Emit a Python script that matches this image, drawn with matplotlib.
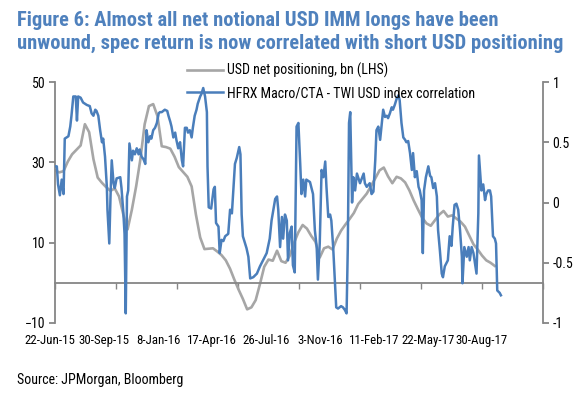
import pandas as pd
import matplotlib
matplotlib.use("Agg")
import matplotlib.pyplot as plt
from matplotlib.lines import Line2D

plt.rcParams['font.family'] = ['Roboto Condensed', 'DejaVu Sans']

# -----------------------------
# Data
# -----------------------------
start = pd.Timestamp("2015-06-22")

# USD net positioning, bn (LHS) - weekly
gray_vals = [28, 27.5, 27.8, 30.2, 32, 33.1, 34.2, 39.5, 37.5, 30.8,
             26.2, 24.9, 23.8, 22.9, 23.5, 21.5, 17, 13.3, 18.2, 24,
             30.8, 39.5, 44, 44.5, 41.5, 34, 33.8, 33.4, 31.4, 28.8,
             27.6, 26.4, 24, 17, 11.3, 8.4, 8.5, 8.6, 7.8, 6.9,
             5.6, 3.5, 0.8, -1.7, -4, -6.6, -6.1, -4.3, -0.3, 4,
             5.8, 5.5, 8, 5.4, 5, 6.8, 10, 12.6, 14.4, 13.5,
             11.7, 10.2, 6.3, 8.6, 9, 8.3, 11, 13, 14.5, 15.9,
             17.4, 19.6, 20.9, 22.2, 24.1, 26, 28, 28.7, 26.5, 24.8,
             26.4, 26, 25, 23, 20.5, 18.3, 16.2, 14.8, 14.2, 15.6,
             17, 17.9, 16.5, 16.8, 16, 15.2, 14, 11.8, 9.6, 8.3,
             6.8, 5.6, 5, 4.2]
gray_dates = pd.date_range(start, periods=len(gray_vals), freq="7D")

# HFRX Macro/CTA - TWI USD index correlation (RHS), days since 22-Jun-15
corr_days = [0, 3, 5, 8, 11, 14, 16, 22, 25, 27,
             30, 34, 36, 38, 42, 46, 52, 57, 60, 63,
             66, 68, 71, 74, 77, 79, 82, 85, 86, 89,
             91, 93, 96, 98, 101, 107, 109, 112, 114, 116,
             118, 120, 122, 126, 128, 131, 134, 137, 139, 142,
             145, 148, 150, 153, 156, 158, 161, 164, 167, 170,
             172, 175, 180, 184, 186, 189, 191, 194, 197, 199,
             202, 205, 208, 210, 213, 216, 218, 221, 224, 226,
             229, 232, 234, 238, 240, 243, 246, 249, 250, 252,
             256, 260, 262, 264, 268, 270, 273, 276, 279, 284,
             287, 290, 293, 295, 298, 302, 304, 306, 308, 314,
             317, 320, 325, 331, 336, 341, 347, 352, 355, 358,
             361, 364, 366, 369, 372, 374, 377, 380, 382, 385,
             388, 390, 393, 396, 399, 402, 404, 407, 410, 412,
             418, 420, 423, 426, 429, 431, 434, 437, 440, 443,
             445, 448, 451, 453, 456, 459, 461, 464, 469, 472,
             475, 478, 480, 482, 484, 487, 489, 492, 495, 500,
             506, 508, 511, 516, 519, 522, 525, 527, 530, 533,
             535, 538, 541, 544, 546, 549, 552, 554, 557, 560,
             563, 565, 568, 571, 574, 576, 579, 582, 585, 587,
             590, 593, 596, 598, 601, 603, 605, 608, 612, 615,
             617, 620, 623, 626, 628, 631, 634, 636, 639, 642,
             644, 647, 650, 652, 655, 658, 661, 664, 667, 668,
             671, 675, 678, 680, 683, 686, 688, 691, 694, 695,
             699, 702, 705, 707, 710, 713, 715, 718, 721, 723,
             725, 729, 731]
corr_vals = [0.30, 0.30, 0.15, 0.06, 0.19, 0.07, 0.53, 0.55, 0.63, 0.72,
             0.88, 0.88, 0.68, 0.88, 0.87, 0.83, 0.81, 0.80, 0.74, 0.72,
             0.77, 0.76, 0.72, 0.60, 0.50, 0.53, 0.38, 0.13, -0.06, -0.34,
             0.05, 0.35, 0.16, 0.12, 0.20, 0.21, 0.12, -0.08, -0.26, -0.92,
             0.05, 0.10, 0.49, 0.35, 0.43, 0.40, 0.45, 0.40, 0.44, 0.38,
             0.36, 0.32, 0.60, 0.50, 0.55, 0.53, 0.60, 0.62, 0.66, 0.74,
             0.75, 0.75, 0.77, 0.76, 0.72, 0.67, 0.63, 0.54, 0.58, 0.52,
             0.45, 0.50, 0.35, 0.30, 0.62, 0.62, 0.58, 0.60, 0.54, 0.62,
             0.72, 0.77, 0.82, 0.88, 0.90, 0.95, 0.88, 0.75, 0.30, -0.04,
             -0.05, 0.11, 0.13, -0.17, -0.20, -0.42, -0.31, -0.32, -0.28, -0.26,
             -0.06, -0.09, 0.16, 0.32, 0.37, 0.46, 0.40, -0.10, -0.28, -0.38,
             -0.45, -0.63, -0.62, -0.59, -0.53, -0.48, -0.42, -0.30, -0.15, -0.06,
             0.03, 0.05, -0.06, -0.37, -0.12, -0.30, -0.10, -0.15, -0.48, -0.25,
             -0.20, -0.52, -0.58, 0.63, 0.66, 0.32, 0.07, 0.19, 0.05, 0.19,
             0.17, 0.13, 0.07, -0.23, -0.37, -0.64, -0.34, 0.27, 0.21, 0.34,
             0.13, -0.12, -0.10, -0.15, -0.37, -0.67, -0.87, -0.88, -0.86, -0.87,
             -0.89, -0.92, -0.37, 0.66, 0.75, 0.00, 0.21, 0.10, 0.24, 0.16,
             0.24, 0.16, 0.13, 0.16, 0.07, 0.09, 0.35, 0.60, 0.63, 0.52,
             0.62, 0.77, 0.71, 0.72, 0.70, 0.74, 0.79, 0.77, 0.81, 0.86,
             0.89, 0.85, 0.66, 0.54, 0.52, 0.50, 0.51, 0.41, 0.27, 0.41,
             0.21, 0.26, 0.13, 0.10, 0.02, -0.42, 0.10, 0.21, 0.30, 0.22,
             0.21, 0.12, 0.16, 0.05, -0.23, -0.40, -0.59, -0.62, -0.53, -0.50,
             -0.48, -0.28, -0.36, -0.20, -0.02, -0.01, -0.06, -0.23, -0.45, -0.67,
             -0.37, -0.45, -0.37, -0.48, -0.37, -0.42, -0.49, -0.59, -0.09, 0.39,
             0.10, 0.15, 0.02, 0.07, 0.10, 0.10, 0.05, -0.28, -0.30, -0.34,
             -0.73, -0.75, -0.77]
corr_dates = start + pd.to_timedelta(corr_days, unit="D")

tick_labels = ["22-Jun-15", "30-Sep-15", "8-Jan-16", "17-Apr-16", "26-Jul-16",
               "3-Nov-16", "11-Feb-17", "22-May-17", "30-Aug-17"]
tick_dates = pd.date_range(start, periods=len(tick_labels), freq="100D")

title_lines = ["Figure 6: Almost all net notional USD IMM longs have been",
               "unwound, spec return is now correlated with short USD positioning"]

# -----------------------------
# Plot
# -----------------------------
blue = "#4A7EBB"
grey = "#A6A6A6"
axis_col = "#868686"

fig = plt.figure(figsize=(5.88, 3.98), dpi=100)
ax = fig.add_axes([55 / 588, 1 - 323 / 398, 488 / 588, 241 / 398])
ax2 = ax.twinx()

ax.plot(gray_dates, gray_vals, color=grey, lw=1.9, solid_joinstyle="round")
ax2.plot(corr_dates, corr_vals, color=blue, lw=1.8, solid_joinstyle="round")

ax.set_xlim(start, tick_dates[-1])
ax.set_ylim(-10, 50)
ax.set_yticks([-10, 10, 30, 50])
ax2.set_ylim(-1, 1)
ax2.set_yticks([-1, -0.5, 0, 0.5, 1])
ax2.set_yticklabels(["-1", "-0.5", "0", "0.5", "1"])

for a in (ax, ax2):
    a.spines["top"].set_visible(False)
    for s in a.spines.values():
        s.set_color(axis_col)
        s.set_linewidth(1.3)
ax2.spines["left"].set_visible(False)
ax2.spines["bottom"].set_visible(False)
ax.spines["right"].set_visible(False)
ax.spines["bottom"].set_position(("data", 0))

ax.set_xticks(tick_dates)
ax.set_xticklabels([])
ax.tick_params(axis="x", direction="out", length=4, color=axis_col, width=1)
ax.tick_params(axis="y", direction="out", length=4, color=axis_col, width=1.3,
               labelsize=10, pad=3)
ax2.tick_params(axis="y", direction="out", length=4, color=axis_col, width=1.3,
                labelsize=10, pad=3)

# date labels sit on their own row under the plot
for i, lab in enumerate(tick_labels):
    ax.text((50 + 54 * i - 55) / 488, -0.073, lab, transform=ax.transAxes,
            ha="center", va="center", fontsize=9.3)

handles = [Line2D([], [], color=grey, lw=1.9), Line2D([], [], color=blue, lw=1.8)]
fig.legend(handles, ["USD net positioning, bn (LHS)",
                     "HFRX Macro/CTA - TWI USD index correlation"],
           loc="upper left", bbox_to_anchor=(181 / 588, 1 - 57 / 398),
           frameon=False, fontsize=10, handlelength=2.6, handletextpad=0.3,
           labelspacing=0.6, borderaxespad=0)

fig.text(17 / 588, 1 - 26 / 398, title_lines[0], ha="left", va="baseline",
         fontsize=14.8, fontweight="bold", color="#4F81BD")
fig.text(17 / 588, 1 - 49.3 / 398, title_lines[1], ha="left", va="baseline",
         fontsize=14.8, fontweight="bold", color="#4F81BD")
fig.text(17 / 588, 1 - 380 / 398, "Source: JPMorgan, Bloomberg", ha="left",
         va="center", fontsize=10)

fig.savefig("out.png", dpi=100)
